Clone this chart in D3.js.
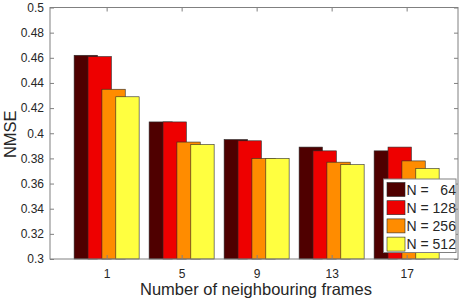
<!DOCTYPE html>
<html>
<head>
<meta charset="utf-8">
<script src="https://cdn.jsdelivr.net/npm/d3@7"></script>
<style>
  body { margin: 0; background: #fff; }
  svg { display: block; font-family: "Liberation Sans", Arial, sans-serif; }
  .legend text { white-space: pre; }
</style>
</head>
<body>
<svg></svg>
<script>
let categories = ['1', '5', '9', '13', '17']
let seriesNames = ['N =   64', 'N = 128', 'N = 256', 'N = 512']
let seriesColors = ['#4f0000', '#ee0000', '#ff8c00', '#ffff40']

let n64 = [0.462, 0.409, 0.395, 0.389, 0.386]
let n128 = [0.461, 0.409, 0.394, 0.386, 0.389]
let n256 = [0.435, 0.393, 0.380, 0.377, 0.378]
let n512 = [0.429, 0.391, 0.380, 0.375, 0.372]

let yTicks = [0.3, 0.32, 0.34, 0.36, 0.38, 0.4, 0.42, 0.44, 0.46, 0.48, 0.5]

let series = [n64, n128, n256, n512]

let width = 463
let height = 301
let plotLeft = 50
let plotRight = 458
let plotTop = 7.5
let plotBottom = 259

let svg = d3.select('svg')
    .attr('width', width)
    .attr('height', height)

// category index -> pixel, matlab-ish xlim
let xScale = d3.scaleLinear()
    .domain([-0.755, 4.685])
    .range([plotLeft, plotRight])

let yScale = d3.scaleLinear()
    .domain([0.3, 0.5])
    .range([plotBottom, plotTop])

let step = 0.1853
let barW = 0.311

// bars, later series drawn on top
series.forEach((vals, s) => {
    svg.append('g')
        .selectAll('rect')
        .data(vals)
        .enter()
        .append('rect')
        .attr('x', (d, i) => xScale(i + (s - 1.5) * step - barW / 2))
        .attr('width', xScale(barW) - xScale(0))
        .attr('y', d => yScale(d))
        .attr('height', d => yScale(0.3) - yScale(d))
        .attr('fill', seriesColors[s])
        .attr('stroke', '#2a2a2a')
        .attr('stroke-width', 0.6)
})

let axisColor = '#808080'
let textColor = '#262626'

// box
svg.append('rect')
    .attr('x', plotLeft)
    .attr('y', plotTop)
    .attr('width', plotRight - plotLeft)
    .attr('height', plotBottom - plotTop)
    .attr('fill', 'none')
    .attr('stroke', axisColor)
    .attr('stroke-width', 1)

let xAxis = d3.axisBottom(xScale)
    .tickValues(d3.range(categories.length))
    .tickFormat(i => categories[i])
    .tickSizeInner(-4)
    .tickSizeOuter(0)
    .tickPadding(10)

let xAxisTop = d3.axisTop(xScale)
    .tickValues(d3.range(categories.length))
    .tickFormat('')
    .tickSizeInner(-4)
    .tickSizeOuter(0)

let yAxis = d3.axisLeft(yScale)
    .tickValues(yTicks)
    .tickFormat(d3.format('~g'))
    .tickSizeInner(-4)
    .tickSizeOuter(0)
    .tickPadding(6)

let yAxisRight = d3.axisRight(yScale)
    .tickValues(yTicks)
    .tickFormat('')
    .tickSizeInner(-4)
    .tickSizeOuter(0)

let styleAxis = g => {
    g.select('.domain').remove()
    g.selectAll('line').attr('stroke', axisColor)
    g.selectAll('text')
        .attr('fill', textColor)
        .style('font-size', '12px')
}

svg.append('g')
    .attr('transform', 'translate(0,' + plotBottom + ')')
    .call(xAxis)
    .call(styleAxis)

svg.append('g')
    .attr('transform', 'translate(0,' + plotTop + ')')
    .call(xAxisTop)
    .call(styleAxis)

svg.append('g')
    .attr('transform', 'translate(' + plotLeft + ',0)')
    .call(yAxis)
    .call(styleAxis)

svg.append('g')
    .attr('transform', 'translate(' + plotRight + ',0)')
    .call(yAxisRight)
    .call(styleAxis)

svg.append('text')
    .attr('x', (plotLeft + plotRight) / 2 + 2)
    .attr('y', 295)
    .attr('text-anchor', 'middle')
    .attr('fill', textColor)
    .style('font-size', '16.5px')
    .text('Number of neighbouring frames')

svg.append('text')
    .attr('transform', 'translate(16,' + ((plotTop + plotBottom) / 2 + 1) + ') rotate(-90)')
    .attr('text-anchor', 'middle')
    .attr('fill', textColor)
    .style('font-size', '16.5px')
    .text('NMSE')

// legend
let legend = svg.append('g').attr('class', 'legend')
    .attr('transform', 'translate(383.5,179)')

legend.append('rect')
    .attr('width', 72.5)
    .attr('height', 73.5)
    .attr('fill', '#fff')
    .attr('stroke', axisColor)
    .attr('stroke-width', 1)

let items = legend.selectAll('g.item')
    .data(seriesNames)
    .enter()
    .append('g')
    .attr('class', 'item')
    .attr('transform', (d, i) => 'translate(3.5,' + (3.5 + i * 18.2) + ')')

items.append('rect')
    .attr('width', 18)
    .attr('height', 14)
    .attr('fill', (d, i) => seriesColors[i])
    .attr('stroke', '#2a2a2a')
    .attr('stroke-width', 0.6)

items.append('text')
    .attr('x', 19.5)
    .attr('y', 12)
    .attr('fill', textColor)
    .style('font-size', '14px')
    .text(d => d)
</script>
</body>
</html>
